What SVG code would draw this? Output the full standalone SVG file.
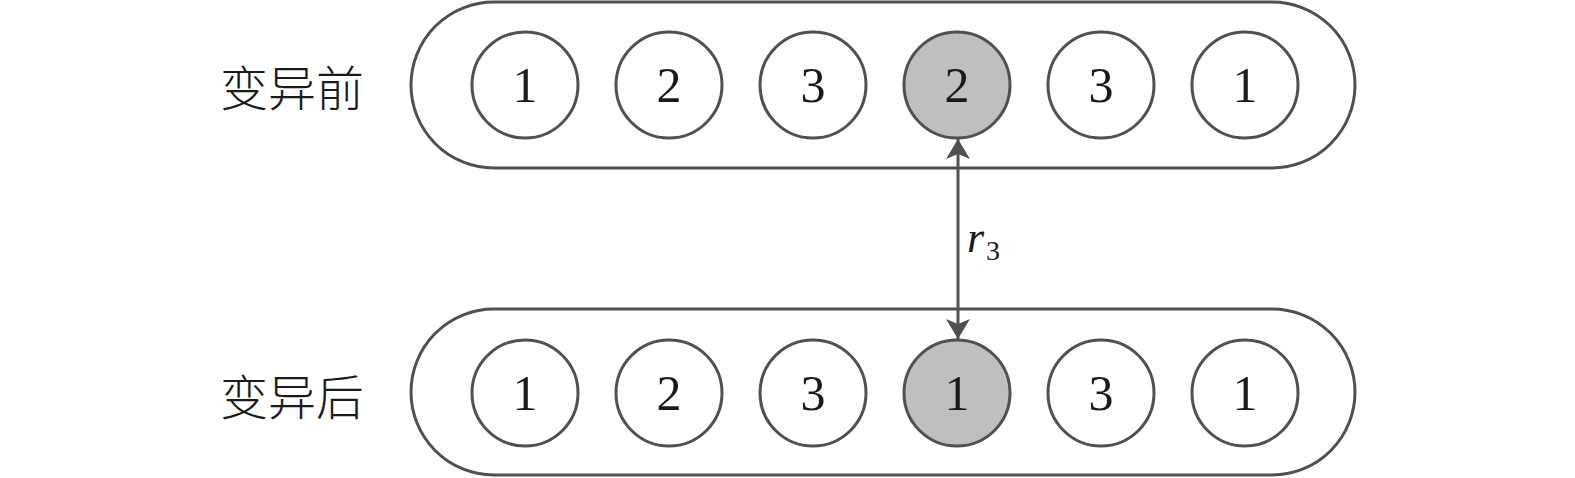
<svg xmlns="http://www.w3.org/2000/svg" width="1575" height="478" viewBox="0 0 1575 478">
<style>
.pill{fill:#fff;stroke:#505050;stroke-width:3}
.c{fill:#fff;stroke:#505050;stroke-width:3}
.g{fill:#bfbfbf}
.n{font-family:"Liberation Serif",serif;font-size:50px;fill:#1a1a1a;text-anchor:middle}
.lab{font-family:"Noto Sans CJK SC",sans-serif;font-size:48px;font-weight:300;fill:#1a1a1a}
</style>
<defs>
<marker id="ah" viewBox="0 0 20 24" refX="20" refY="12" markerWidth="20" markerHeight="24" markerUnits="userSpaceOnUse" orient="auto-start-reverse">
<path d="M0,0 L20,12 L0,24 L5,12 Z" fill="#505050"/>
</marker>
</defs>
<rect width="1575" height="478" fill="#fff"/>
<text class="lab" x="220" y="106">变异前</text>
<text class="lab" x="220" y="415">变异后</text>
<g id="top-row">
<rect class="pill" x="411" y="2" width="944" height="166" rx="83"/>
<g id="t1"><circle class="c" cx="525" cy="85" r="53"/><text class="n" x="525" y="102">1</text></g>
<g id="t2"><circle class="c" cx="669" cy="85" r="53"/><text class="n" x="669" y="102">2</text></g>
<g id="t3"><circle class="c" cx="813" cy="85" r="53"/><text class="n" x="813" y="102">3</text></g>
<g id="t4"><circle class="c g" cx="957" cy="85" r="53"/><text class="n" x="957" y="102">2</text></g>
<g id="t5"><circle class="c" cx="1101" cy="85" r="53"/><text class="n" x="1101" y="102">3</text></g>
<g id="t6"><circle class="c" cx="1245" cy="85" r="53"/><text class="n" x="1245" y="102">1</text></g>
</g>
<g id="bottom-row">
<rect class="pill" x="411" y="309" width="944" height="166" rx="83"/>
<g id="b1"><circle class="c" cx="525" cy="393" r="53"/><text class="n" x="525" y="410">1</text></g>
<g id="b2"><circle class="c" cx="669" cy="393" r="53"/><text class="n" x="669" y="410">2</text></g>
<g id="b3"><circle class="c" cx="813" cy="393" r="53"/><text class="n" x="813" y="410">3</text></g>
<g id="b4"><circle class="c g" cx="957" cy="393" r="53"/><text class="n" x="957" y="410">1</text></g>
<g id="b5"><circle class="c" cx="1101" cy="393" r="53"/><text class="n" x="1101" y="410">3</text></g>
<g id="b6"><circle class="c" cx="1245" cy="393" r="53"/><text class="n" x="1245" y="410">1</text></g>
</g>
<g id="connectors">
<line x1="958" y1="139" x2="958" y2="339" stroke="#505050" stroke-width="3" marker-start="url(#ah)" marker-end="url(#ah)"/>
<text x="967" y="252" font-family="Liberation Serif,serif" font-style="italic" font-size="44" fill="#1a1a1a">r</text>
<text x="986" y="260" font-family="Liberation Serif,serif" font-size="28" fill="#1a1a1a">3</text>
</g>
</svg>
